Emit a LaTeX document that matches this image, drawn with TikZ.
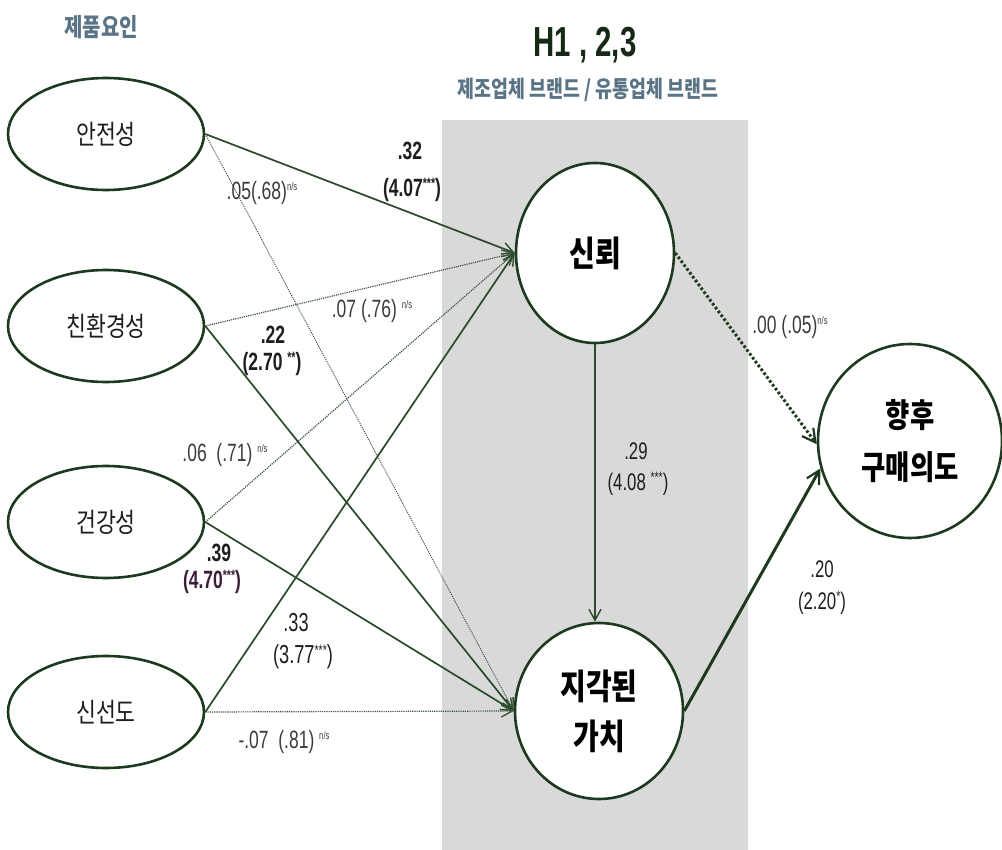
\documentclass[tikz,border=0pt]{standalone}
\usepackage{fontspec}
\setmainfont{Liberation Sans}[FakeStretch=0.7]
\newfontfamily\kr{Noto Sans CJK KR}[FakeStretch=0.8]
\usetikzlibrary{shapes.geometric,arrows.meta}
\definecolor{lg}{HTML}{2B4A2B}
\definecolor{eg}{HTML}{1E3A1E}
\definecolor{bgc}{HTML}{D9D9D9}
\definecolor{tb}{HTML}{5A7486}
\definecolor{tx}{HTML}{1E1E1E}
\definecolor{nsc}{HTML}{3C3C3C}
\definecolor{pu}{HTML}{3A1E38}
\newcommand\nsup[1]{\raisebox{0.7ex}{\fontsize{11}{11}\selectfont #1}}
\newcommand\stsup[1]{\raisebox{0.6ex}{\fontsize{15}{15}\selectfont #1}}
\begin{document}
\begin{tikzpicture}[x=1pt,y=-1pt,
  fac/.style={ellipse,draw=eg,line width=2.6pt,minimum width=196pt,minimum height=112pt,inner sep=0pt,
    font=\kr\fontsize{27}{27}\selectfont,text=tx,fill=white},
  big/.style={ellipse,draw=eg,line width=2.6pt,inner sep=0pt,fill=white,align=center,
    font=\kr\bfseries\fontsize{35}{50}\selectfont,text=black},
  tip/.style={-{Straight Barb[length=11pt,width=12pt,line width=1.4pt]}},
  sol/.style={tip,draw=lg,line width=1.7pt},
  dot/.style={tip,draw=lg!80!gray,line width=1.2pt,densely dotted},
  thk/.style={-{Straight Barb[length=13pt,width=14pt,line width=2.2pt]},draw=eg,line width=3pt},
  thkdot/.style={thk,dash pattern=on 2.6pt off 2.2pt},
  lab/.style={inner sep=0pt,font=\fontsize{25}{25}\selectfont,text=nsc},
  blab/.style={inner sep=0pt,font=\bfseries\fontsize{25}{25}\selectfont,text=tx},
  mlab/.style={inner sep=0pt,font=\fontsize{26}{26}\selectfont,text=tx}
]
\useasboundingbox (0,0) rectangle (1002,850);
\fill[bgc] (442,120) rectangle (748,850);

% titles
\node[inner sep=0pt,font=\kr\bfseries\fontsize{25}{25}\selectfont,text=tb] (t1) at (101,27) {제품요인};
\node[inner sep=0pt,font=\bfseries\fontsize{42}{42}\selectfont,text=eg!70!black] (t2) at (585,45) {H1 , 2,3};
\node[inner sep=0pt,font=\kr\bfseries\fontsize{23}{23}\selectfont,text=tb] (t3) at (588,90) {제조업체 브랜드 / 유통업체 브랜드};

% factor ellipses
\node[fac] (s1) at (106,134) {안전성};
\node[fac] (s2) at (106,326) {친환경성};
\node[fac] (s3) at (106,522) {건강성};
\node[fac] (s4) at (106,712) {신선도};

% latent circles
\node[big,minimum width=158pt,minimum height=180pt] (trust) at (595,253) {신뢰};
\node[big,minimum width=168pt,minimum height=176pt] (value) at (599,711) {지각된\\가치};
\node[big,minimum width=184pt,minimum height=194pt,font=\kr\bfseries\fontsize{33}{52}\selectfont] (intent) at (910,441) {향후\\구매의도};

% connectors
\draw[sol] (s1.east) -- (trust.west);
\draw[dot,line width=0.9pt] (s1.east) -- (value.west);
\draw[dot] (s2.east) -- (trust.west);
\draw[sol] (s2.east) -- (value.west);
\draw[dot] (s3.east) -- (trust.west);
\draw[sol] (s3.east) -- (value.west);
\draw[sol] (s4.east) -- (trust.west);
\draw[dot] (s4.east) -- (value.west);
\draw[sol,line width=1.3pt] (trust.south) -- (trust.south |- value.north);
\draw[thkdot] (trust.east) -- (intent.182);
\draw[thk] (value.east) -- (intent.197);

% labels
\node[blab] (l1a) at (410,151) {.32};
\node[blab] (l1b) at (412,190) {(4.07\stsup{***})};
\node[lab] (l2) at (262,193) {.05(.68)\nsup{n/s}};
\node[lab] (l3) at (372,311) {.07 (.76) \nsup{n/s}};
\node[blab] (l4a) at (273,335) {.22};
\node[blab] (l4b) at (272,364) {(2.70 \stsup{**})};
\node[lab] (l5) at (225,455) {.06 \ (.71) \nsup{n/s}};
\node[blab] (l6a) at (219,553) {.39};
\node[blab,text=pu] (l6b) at (212,582) {(4.70\stsup{***})};
\node[mlab] (l7a) at (296,623) {.33};
\node[mlab] (l7b) at (303,657) {(3.77\stsup{***})};
\node[lab] (l8) at (284,742) {-.07 \ (.81) \nsup{n/s}};
\node[mlab,font=\fontsize{24}{24}\selectfont] (l9a) at (636,451) {.29};
\node[mlab,font=\fontsize{24}{24}\selectfont] (l9b) at (638,484) {(4.08 \stsup{***})};
\node[lab] (l10) at (790,327) {.00 (.05)\nsup{n/s}};
\node[mlab,font=\fontsize{24}{24}\selectfont] (l11a) at (822,569) {.20};
\node[mlab,font=\fontsize{24}{24}\selectfont] (l11b) at (822,603) {(2.20\stsup{*})};
\end{tikzpicture}
\end{document}
